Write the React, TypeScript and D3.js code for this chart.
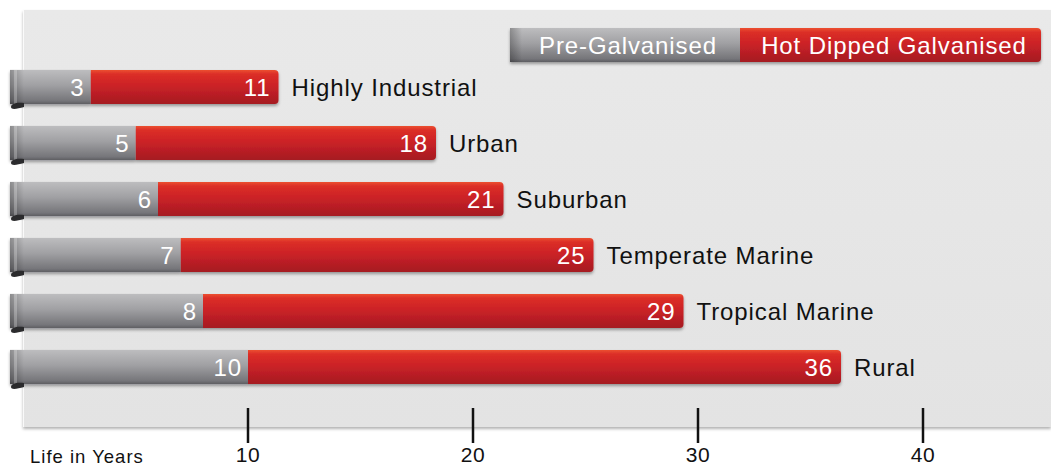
import * as d3 from 'd3';

const categories = ['Highly Industrial', 'Urban', 'Suburban', 'Temperate Marine', 'Tropical Marine', 'Rural'];
const preGalvanised = [3, 5, 6, 7, 8, 10];
const hotDipped = [11, 18, 21, 25, 29, 36];
const tickValues = [10, 20, 30, 40];
const legendLabels = ['Pre-Galvanised', 'Hot Dipped Galvanised'];

const W = 1051;
const H = 468;
const FONT = "'Liberation Sans', Arial, Helvetica, sans-serif";
const LS = 0.9;

export default function App() {
  const x = d3.scaleLinear().domain([0, 40]).range([23, 923]);
  const y = d3.scaleBand<string>()
    .domain(categories)
    .range([59, 395])
    .paddingInner(0.39)
    .paddingOuter(0.195);
  const bw = y.bandwidth();
  const barLeft = 10;
  const endPad = 8; // bar runs a little past its value to hold the label

  return (
    <svg width={W} height={H} style={{ position: 'absolute', left: 0, top: 0, display: 'block', background: '#fff' }}>
      <defs>
        <linearGradient id="grayGrad" x1="0" y1="0" x2="0" y2="1">
          <stop offset="0%" stopColor="#bdbdbf" />
          <stop offset="45%" stopColor="#a0a0a3" />
          <stop offset="90%" stopColor="#76767a" />
          <stop offset="100%" stopColor="#5e5e62" />
        </linearGradient>
        <linearGradient id="grayLeft" x1="0" y1="0" x2="1" y2="0">
          <stop offset="0%" stopColor="#000" stopOpacity={0.25} />
          <stop offset="100%" stopColor="#000" stopOpacity={0} />
        </linearGradient>
        <linearGradient id="redGrad" x1="0" y1="0" x2="0" y2="1">
          <stop offset="0%" stopColor="#ec5030" />
          <stop offset="12%" stopColor="#dc2f28" />
          <stop offset="45%" stopColor="#cc2227" />
          <stop offset="100%" stopColor="#a51b22" />
        </linearGradient>
        <linearGradient id="panelGrad" x1="0" y1="0" x2="0" y2="1">
          <stop offset="0%" stopColor="#e9e9e9" />
          <stop offset="100%" stopColor="#e3e3e3" />
        </linearGradient>
        <filter id="panelShadow" x="-5%" y="-5%" width="110%" height="115%">
          <feDropShadow dx="0" dy="2" stdDeviation="1.5" floodColor="#000" floodOpacity="0.3" />
        </filter>
        <filter id="barShadow" x="-5%" y="-30%" width="110%" height="170%">
          <feDropShadow dx="0" dy="2" stdDeviation="1.5" floodColor="#000" floodOpacity="0.35" />
        </filter>
      </defs>

      {/* background panel */}
      <rect x={23} y={10} width={W - 23} height={417} fill="url(#panelGrad)" filter="url(#panelShadow)" />
      <line x1={23.5} x2={23.5} y1={10} y2={427} stroke="#fff" strokeWidth={1} opacity={0.8} />

      {/* legend */}
      <g filter="url(#barShadow)">
        <path d="M510,28 H1037 Q1041,28 1041,32 V58 Q1041,62 1037,62 H510 Z" fill="url(#redGrad)" />
        <rect x={510} y={28} width={230} height={34} fill="url(#grayGrad)" />
        <rect x={510} y={28} width={12} height={34} fill="url(#grayLeft)" />
      </g>
      <text x={628} y={54} textAnchor="middle" fontFamily={FONT} fontSize={24} letterSpacing={LS} fill="#fff">{legendLabels[0]}</text>
      <text x={894} y={54} textAnchor="middle" fontFamily={FONT} fontSize={24} letterSpacing={LS} fill="#fff">{legendLabels[1]}</text>

      {/* bars */}
      {categories.map((c, i) => {
        const top = y(c)!;
        const bot = top + bw;
        const gEnd = x(preGalvanised[i]);
        const rEnd = x(hotDipped[i]) + endPad;
        const cy = top + bw / 2;
        return (
          <g key={c}>
            <g filter="url(#barShadow)">
              <path
                d={`M${gEnd},${top} H${rEnd - 4} Q${rEnd},${top} ${rEnd},${top + 4} V${bot - 4} Q${rEnd},${bot} ${rEnd - 4},${bot} H${gEnd} Z`}
                fill="url(#redGrad)"
              />
              <rect x={barLeft} y={top} width={gEnd - barLeft} height={bw} fill="url(#grayGrad)" />
            </g>
            <rect x={barLeft} y={top} width={14} height={bw} fill="url(#grayLeft)" />
            <rect x={barLeft + 4} y={top} width={3} height={bw} fill="#fff" opacity={0.25} />
            {/* ribbon curl */}
            <path
              d={`M${barLeft + 14},${bot - 1} C${barLeft + 6},${bot - 2} ${barLeft + 1},${bot} ${barLeft + 1},${bot + 3} C${barLeft + 1},${bot + 6} ${barLeft + 7},${bot + 5} ${barLeft + 14},${bot + 3} Z`}
              fill="#2b2b2d"
            />
            <text x={gEnd - 6} y={cy + 8.5} textAnchor="end" fontFamily={FONT} fontSize={24} letterSpacing={LS} fill="#fff">
              {preGalvanised[i]}
            </text>
            <text x={rEnd - 8} y={cy + 8.5} textAnchor="end" fontFamily={FONT} fontSize={24} letterSpacing={LS} fill="#fff">
              {hotDipped[i]}
            </text>
            <text x={rEnd + 13} y={cy + 8.5} fontFamily={FONT} fontSize={24} letterSpacing={LS} fill="#111">
              {c}
            </text>
          </g>
        );
      })}

      {/* axis */}
      {tickValues.map((t) => (
        <g key={t}>
          <line x1={x(t)} x2={x(t)} y1={408} y2={443} stroke="#111" strokeWidth={2.5} />
          <text x={x(t)} y={462} textAnchor="middle" fontFamily={FONT} fontSize={21} letterSpacing={0.6} fill="#111">{t}</text>
        </g>
      ))}
      <text x={30} y={463} fontFamily={FONT} fontSize={18.5} letterSpacing={1} fill="#111">Life in Years</text>
    </svg>
  );
}
